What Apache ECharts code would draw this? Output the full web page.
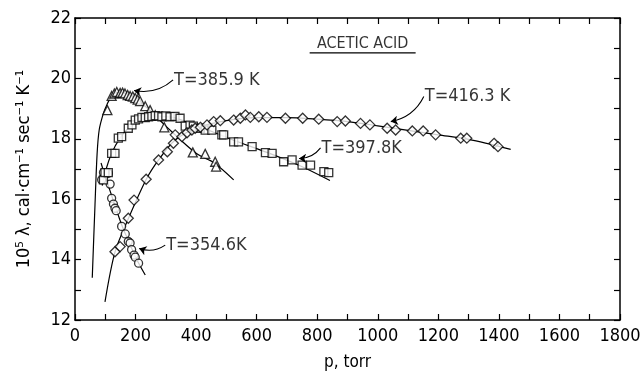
<!DOCTYPE html>
<html>
<head>
<meta charset="utf-8">
<script src="https://cdn.jsdelivr.net/npm/echarts@6/dist/echarts.min.js"></script>
<style>
  html, body { margin: 0; padding: 0; background: #fff; }
  #chart { width: 644px; height: 374px; }
</style>
</head>
<body>
<div id="chart"></div>
<script>
// measured points, p in torr, lambda in 1e-5 cal/(cm sec K)
const circP = [88, 94, 110, 116, 121, 127, 132, 136, 154, 166, 176, 182, 187, 195, 199, 210];
const circV = [16.64, 16.88, 16.86, 16.5, 16.03, 15.84, 15.7, 15.62, 15.1, 14.85, 14.6, 14.55, 14.33, 14.15, 14.08, 13.88];

const triP = [107, 121, 130, 138, 149, 157, 165, 174, 182, 191, 199, 207, 215, 232, 248, 265, 295, 389, 430, 463, 466];
const triV = [18.95, 19.42, 19.5, 19.55, 19.52, 19.53, 19.5, 19.45, 19.42, 19.4, 19.35, 19.3, 19.25, 19.08, 18.95, 18.78, 18.38, 17.55, 17.5, 17.24, 17.08];

const sqP = [94, 99, 110, 121, 132, 143, 154, 176, 188, 199, 210, 221, 232, 243, 254, 265, 276, 287, 300, 314, 330, 347, 364, 380, 391, 414, 430, 452, 485, 491, 524, 540, 585, 629, 651, 689, 717, 750, 778, 822, 838];
const sqV = [16.64, 16.88, 16.88, 17.52, 17.52, 18.02, 18.07, 18.35, 18.46, 18.62, 18.66, 18.71, 18.7, 18.73, 18.74, 18.77, 18.76, 18.73, 18.76, 18.73, 18.74, 18.68, 18.42, 18.45, 18.42, 18.35, 18.29, 18.29, 18.13, 18.13, 17.9, 17.9, 17.74, 17.54, 17.52, 17.24, 17.3, 17.13, 17.13, 16.91, 16.88];

const diaP = [132, 149, 176, 195, 235, 276, 305, 325, 331, 353, 370, 386, 397, 414, 436, 458, 480, 524, 546, 563, 579, 607, 634, 695, 752, 805, 866, 893, 943, 974, 1031, 1059, 1114, 1150, 1191, 1274, 1294, 1384, 1397];
const diaV = [14.26, 14.43, 15.37, 15.97, 16.66, 17.3, 17.57, 17.85, 18.13, 18.07, 18.2, 18.29, 18.35, 18.38, 18.46, 18.57, 18.6, 18.62, 18.68, 18.79, 18.71, 18.73, 18.71, 18.68, 18.68, 18.65, 18.57, 18.59, 18.51, 18.46, 18.35, 18.29, 18.26, 18.26, 18.13, 18.02, 18.02, 17.85, 17.74];

// drawn fit curves
const circFitP = [86, 100, 120, 140, 160, 180, 200, 232];
const circFitV = [17.2, 16.75, 16.15, 15.55, 15.0, 14.55, 14.08, 13.49];
const triFitP = [57, 66, 73, 80, 94, 105, 120, 140, 165, 200, 250, 300, 400, 460, 524];
const triFitV = [13.4, 15.8, 17.5, 18.3, 18.85, 19.12, 19.4, 19.53, 19.5, 19.33, 18.92, 18.42, 17.52, 17.2, 16.64];
const sqFitP = [90, 100, 120, 150, 180, 220, 270, 320, 370, 450, 524, 634, 745, 842];
const sqFitV = [16.45, 16.9, 17.5, 18.05, 18.38, 18.62, 18.74, 18.72, 18.55, 18.25, 17.95, 17.55, 17.1, 16.62];
const diaFitP = [99, 132, 176, 235, 276, 330, 400, 500, 600, 700, 800, 900, 1000, 1100, 1200, 1300, 1439];
const diaFitV = [12.6, 14.25, 15.35, 16.65, 17.3, 17.95, 18.35, 18.6, 18.7, 18.7, 18.65, 18.57, 18.43, 18.28, 18.13, 17.98, 17.65];

// labels and their arrows
const labelTexts = ["T=385.9 K", "T=397.8K", "T=416.3 K", "T=354.6K"];
const labelPos = [[324, 19.95], [811, 17.7], [1152, 19.4], [298, 14.48]];
const arrowTo = [[195, 19.6], [740, 17.35], [1043, 18.57], [212, 14.37]];
const titleText = "ACETIC ACID";
const titlePos = [950, 21.14];

const zip = (a, b) => a.map((x, i) => [x, b[i]]);

// pick a narrow face if one is installed
function hasFont(name) {
  const ctx = document.createElement('canvas').getContext('2d');
  ctx.font = '20px monospace';
  const base = ctx.measureText('T=385.9 K ACETIC').width;
  ctx.font = '20px "' + name + '", monospace';
  return ctx.measureText('T=385.9 K ACETIC').width !== base;
}
let FONT = 'sans-serif';
let narrow = false;
for (const f of ['Liberation Sans Narrow', 'DejaVu Sans Condensed', 'Liberation Sans']) {
  if (hasFont(f)) { FONT = '"' + f + '"'; narrow = f !== 'Liberation Sans'; break; }
}
const fs = narrow ? 18 : 17;

const chart = echarts.init(document.getElementById('chart'), null, { renderer: 'canvas' });

const lineSt = { show: true, onZero: false, lineStyle: { color: '#000', width: 1.5 } };
const tickSt = { show: true, inside: true, length: 6, lineStyle: { color: '#000', width: 1.2 } };
const minorSt = { show: true, splitNumber: 2, length: 6, lineStyle: { color: '#000', width: 1.2 } };

function xAx(pos, extra) {
  return Object.assign({
    type: 'value', position: pos, min: 0, max: 1800, interval: 200,
    axisLine: lineSt, axisTick: tickSt, minorTick: minorSt, splitLine: { show: false }
  }, extra);
}
function yAx(pos, extra) {
  return Object.assign({
    type: 'value', position: pos, min: 12, max: 22, interval: 2,
    axisLine: lineSt, axisTick: tickSt, minorTick: minorSt, splitLine: { show: false }
  }, extra);
}

function pointSeries(name, p, v, symbol, size) {
  return {
    name, type: 'scatter', data: zip(p, v), symbol, symbolSize: size,
    itemStyle: { color: '#fff', borderColor: '#000', borderWidth: 1.3 },
    z: 5
  };
}
function fitSeries(p, v) {
  return {
    type: 'line', data: zip(p, v), showSymbol: false, smooth: 0.3,
    lineStyle: { color: '#000', width: 1.2 }, z: 3, silent: true
  };
}

const option = {
  animation: false,
  backgroundColor: '#fff',
  grid: { left: 75, right: 24, top: 18, bottom: 54, outerBoundsMode: 'none', containLabel: false },
  xAxis: [
    xAx('bottom', {
      name: 'p, torr', nameLocation: 'middle', nameGap: 34,
      nameTextStyle: { fontFamily: FONT, fontSize: fs - 1, color: '#000' },
      axisLabel: { fontFamily: FONT, fontSize: fs, color: '#000', margin: 7, formatter: v => String(v) }
    }),
    xAx('top', { axisLabel: { show: false } })
  ],
  yAxis: [
    yAx('left', {
      name: '10⁵ λ, cal·cm⁻¹ sec⁻¹ K⁻¹', nameLocation: 'middle', nameGap: 42, nameRotate: 90,
      nameTextStyle: { fontFamily: FONT, fontSize: fs, color: '#000' },
      axisLabel: { fontFamily: FONT, fontSize: fs, color: '#000', margin: 4 }
    }),
    yAx('right', { axisLabel: { show: false } })
  ],
  series: [
    fitSeries(circFitP, circFitV),
    fitSeries(triFitP, triFitV),
    fitSeries(sqFitP, sqFitV),
    fitSeries(diaFitP, diaFitV),
    pointSeries('354.6', circP, circV, 'circle', 8),
    pointSeries('385.9', triP, triV, 'triangle', 9),
    pointSeries('397.8', sqP, sqV, 'rect', 8),
    pointSeries('416.3', diaP, diaV, 'diamond', 10),
    {
      type: 'lines', coordinateSystem: 'cartesian2d', silent: true, z: 6,
      symbol: ['none', 'arrow'], symbolSize: 7,
      lineStyle: { color: '#000', width: 1.1, curveness: 0.25, opacity: 1 },
      data: labelPos.map((pos, i) => ({ coords: [pos, arrowTo[i]] }))
    },
    {
      type: 'scatter', symbolSize: 0, silent: true, z: 7,
      data: labelPos.map((pos, i) => ({ value: pos, name: labelTexts[i] })),
      label: {
        show: true, position: 'right', distance: 1, formatter: '{b}',
        fontFamily: FONT, fontSize: fs, color: '#000'
      }
    },
    {
      type: 'scatter', symbolSize: 0, silent: true, z: 7,
      data: [{ value: titlePos, name: titleText }],
      label: {
        show: true, position: 'inside', formatter: '{b}',
        fontFamily: FONT, fontSize: fs - 2, color: '#000'
      }
    }
  ]
};
chart.setOption(option);

// underline for the title, placed from its data position
const tp = chart.convertToPixel({ gridIndex: 0 }, titlePos);
chart.setOption({
  graphic: [{
    type: 'line', silent: true,
    shape: { x1: tp[0] - 53, y1: tp[1] + 9, x2: tp[0] + 53, y2: tp[1] + 9 },
    style: { stroke: '#000', lineWidth: 1.3 }
  }]
});
</script>
</body>
</html>
